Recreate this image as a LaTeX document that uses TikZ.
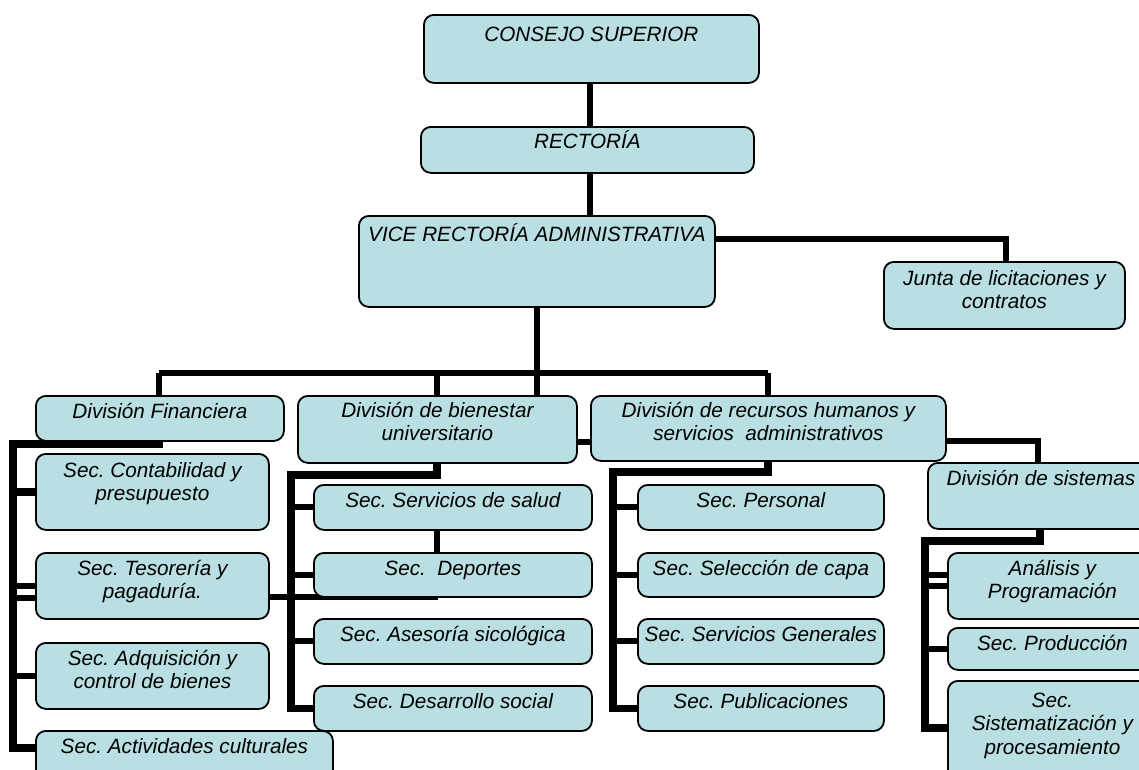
\documentclass[tikz,border=0pt]{standalone}
\usepackage{fontspec}
\setmainfont{Liberation Sans}
\usetikzlibrary{calc}
\definecolor{boxfill}{RGB}{185,223,227}
\pgfdeclarelayer{background}
\pgfsetlayers{background,main}
\newcommand\ubox[7]{%
  \node[box, minimum width={#4-#2}, minimum height={#5-#3}, anchor=north west] (#1) at (#2,#3) {};
  \node[txt, anchor=north] (#1t) at ($(#1.north)+(0,#6-19)$) {\rule{0pt}{19pt}#7};}
\begin{document}
\begin{tikzpicture}[x=1pt,y=-1pt,
  box/.style={draw=black, line width=1.8pt, fill=boxfill, rounded corners=10pt, inner sep=0pt},
  txt/.style={font={\fontsize{20.7}{23.5}\selectfont\itshape\frenchspacing}, align=center, inner sep=0pt},
  conn/.style={draw=black, line width=6pt, line join=miter},
  connw/.style={draw=black, line width=7.5pt, line join=miter}]
\useasboundingbox (0,0) rectangle (1139,769);

\ubox{consejo}{423}{14}{758}{82}{27}{CONSEJO SUPERIOR}
\ubox{rect}{420}{126}{753}{172}{22}{RECTORÍA}
\ubox{vice}{358}{215}{714}{306}{26}{VICE RECTORÍA ADMINISTRATIVA}
\ubox{junta}{883}{261}{1124}{328}{24}{Junta de licitaciones y\\contratos}
\ubox{fin}{35}{395}{283}{440}{23}{División Financiera}
\ubox{bien}{297}{395}{576}{462}{22}{División de bienestar\\universitario}
\ubox{rh}{590}{395}{945}{460}{22}{División de recursos humanos y\\servicios~~administrativos}
\ubox{sis}{927}{462}{1153}{528}{23}{División de sistemas}
\ubox{cont}{35}{453}{268}{529}{24}{Sec. Contabilidad y\\presupuesto}
\ubox{tes}{35}{552}{268}{618}{23}{Sec. Tesorería y\\pagaduría.}
\ubox{adq}{35}{642}{268}{708}{23}{Sec. Adquisición y\\control de bienes}
\ubox{act}{35}{730}{332}{800}{23}{Sec. Actividades culturales}
\ubox{serv}{313}{484}{591}{529}{23}{Sec. Servicios de salud}
\ubox{dep}{313}{552}{591}{596}{23}{Sec.~~Deportes}
\ubox{ases}{313}{618}{591}{663}{23}{Sec. Asesoría sicológica}
\ubox{des}{313}{685}{591}{730}{23}{Sec. Desarrollo social}
\ubox{pers}{637}{484}{883}{529}{23}{Sec. Personal}
\ubox{sel}{637}{552}{883}{596}{23}{Sec. Selección de capa}
\ubox{sgen}{637}{618}{883}{663}{23}{Sec. Servicios Generales}
\ubox{pub}{637}{685}{883}{730}{23}{Sec. Publicaciones}
\ubox{ana}{947}{552}{1156}{618}{23}{Análisis y\\Programación}
\ubox{prod}{947}{627}{1156}{669}{23}{Sec. Producción}
\ubox{sistm}{947}{680}{1156}{800}{27}{Sec.\\Sistematización y\\procesamiento}

% bend points
\coordinate (top) at (590,100);
\coordinate (vd) at (537,373);
\coordinate (busL) at (159,373);
\coordinate (busM) at (437,373);
\coordinate (busR) at (768,373);
\coordinate (jx) at (1006,239);
\coordinate (brh) at (583,442);
\coordinate (sx) at (1038,441);
\coordinate (fR) at (159,444);
\coordinate (fL) at (13,444);
\coordinate (fB) at (13,748);
\coordinate (tesx) at (438,597);
\coordinate (bR) at (437,475);
\coordinate (bL) at (291,475);
\coordinate (rR) at (768,472);
\coordinate (rL) at (613,472);
\coordinate (sR) at (1040,541);
\coordinate (sL) at (925,541);
\coordinate (sB) at (925,728);

\begin{pgfonlayer}{background}
\draw[conn] (consejo.south -| top) -- (rect.north -| top);
\draw[conn] (rect.south -| top) -- (vice.north -| top);
\draw[conn] (vice.south -| vd) -- (bien.north -| vd);
\draw[conn] (busL) -- (busR);
\draw[conn] (busL) -- (fin.north -| busL);
\draw[conn] (busM) -- (bien.north -| busM);
\draw[conn] (busR) -- (rh.north -| busR);
\draw[conn] (vice.east |- jx) -- (jx) -- (junta.north -| jx);
\draw[conn] (bien.east |- brh) -- (rh.west |- brh);
\draw[conn] (rh.east |- sx) -- (sx) -- (sis.north -| sx);
% Financiera
\draw[connw] (fin.south -| fR) -- (fR) -- (fL) -- (fB) -- (act.west |- fB);
\draw[connw] (cont.west -| fL) -- (cont.west);
\draw[conn] (tes.west -| fL) -- (tes.west);
\draw[conn] ($(tes.west -| fL)+(0,12)$) -- ($(tes.west)+(0,12)$);
\draw[conn] (adq.west -| fL) -- (adq.west);
\draw[conn] (tes.east |- tesx) -- (tesx);
% Bienestar
\draw[connw] (bien.south -| bR) -- (bR) -- (bL) -- (bL |- des.west) -- (des.west);
\draw[conn] (serv.west -| bL) -- (serv.west);
\draw[conn] (dep.west -| bL) -- (dep.west);
\draw[conn] (ases.west -| bL) -- (ases.west);
\draw[conn] (serv.south -| bR) -- (dep.north -| bR);
% RH
\draw[connw] (rh.south -| rR) -- (rR) -- (rL) -- (rL |- pub.west) -- (pub.west);
\draw[conn] (pers.west -| rL) -- (pers.west);
\draw[conn] (sel.west -| rL) -- (sel.west);
\draw[conn] (sgen.west -| rL) -- (sgen.west);
% Sistemas
\draw[connw] (sis.south -| sR) -- (sR) -- (sL) -- (sB) -- (sistm.west |- sB);
\draw[conn] ($(ana.west -| sL)+(0,-11)$) -- ($(ana.west)+(0,-11)$);
\draw[conn] (ana.west -| sL) -- (ana.west);
\draw[conn] (prod.west -| sL) -- (prod.west);
\end{pgfonlayer}
\end{tikzpicture}
\end{document}
